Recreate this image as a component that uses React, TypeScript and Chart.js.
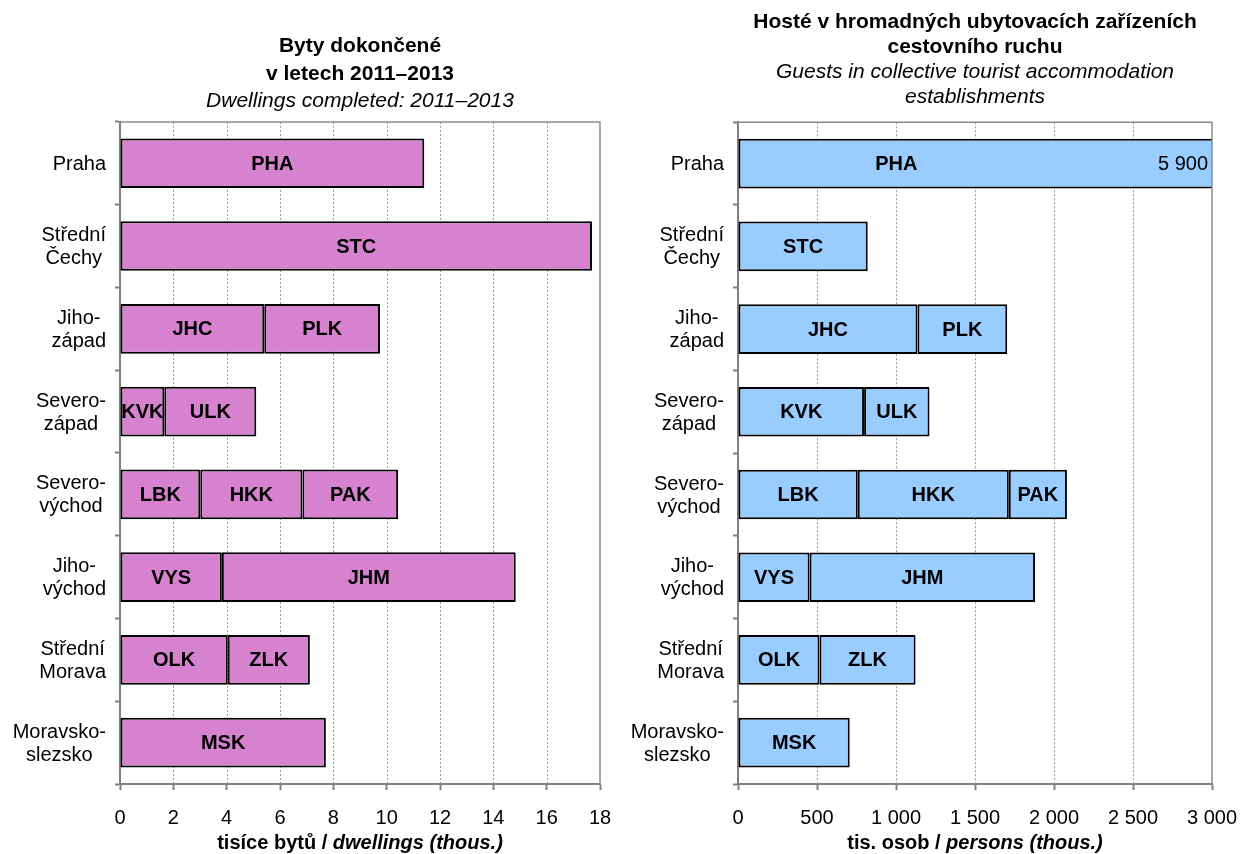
import React, { useEffect, useRef } from "react";
import { Chart, registerables } from "chart.js";

Chart.register(...registerables);

const FONT = '"Liberation Sans", Arial, Helvetica, sans-serif';

// ---------- data ----------
const regionLabels: string[][] = [
  ["Praha"],
  ["Střední", "Čechy"],
  ["Jiho-", "západ"],
  ["Severo-", "západ"],
  ["Severo-", "východ"],
  ["Jiho-", "východ"],
  ["Střední", "Morava"],
  ["Moravsko-", "slezsko"],
];

const codes1 = ["PHA", "STC", "JHC", "KVK", "LBK", "VYS", "OLK", "MSK"];
const codes2 = [null, null, "PLK", "ULK", "HKK", "JHM", "ZLK", null];
const codes3 = [null, null, null, null, "PAK", null, null, null];

// dwellings completed 2011–2013, thousands
const dwellings1 = [11.41, 17.7, 5.41, 1.66, 3.01, 3.82, 4.04, 7.72];
const dwellings2 = [null, null, 4.34, 3.45, 3.83, 11.02, 3.08, null];
const dwellings3 = [null, null, null, null, 3.59, null, null, null];

// guests in collective tourist accommodation, thousands
const guests1 = [5900, 821, 1136, 798, 758, 453, 516, 707];
const guests2 = [null, null, 568, 414, 956, 1427, 608, null];
const guests3 = [null, null, null, null, 368, null, null, null];

const dwellingsAxis = { min: 0, max: 18, step: 2 };
const guestsAxis = { min: 0, max: 3000, step: 500 };

const dwellingsTitle = ["Byty dokončené", "v letech 2011–2013"];
const dwellingsSubtitle = ["Dwellings completed: 2011–2013"];
const guestsTitle = ["Hosté v hromadných ubytovacích zařízeních", "cestovního ruchu"];
const guestsSubtitle = ["Guests in collective tourist accommodation", "establishments"];

const dwellingsAxisTitle = [
  { text: "tisíce bytů / ", italic: false },
  { text: "dwellings (thous.)", italic: true },
];
const guestsAxisTitle = [
  { text: "tis. osob / ", italic: false },
  { text: "persons (thous.)", italic: true },
];

// ---------- helpers ----------
function formatNum(v: number): string {
  const r = Math.round(v);
  if (r >= 1000) {
    return Math.floor(r / 1000) + " " + String(r % 1000).padStart(3, "0");
  }
  return String(v);
}

const gridPlugin = {
  id: "dottedGrid",
  beforeDatasetsDraw(chart: any) {
    const { ctx, chartArea: a, scales } = chart;
    const x = scales.x;
    ctx.save();
    ctx.strokeStyle = "#9a9a9a";
    ctx.lineWidth = 1;
    ctx.setLineDash([2, 2]);
    x.ticks.forEach((t: any, i: number) => {
      if (i === 0 || i === x.ticks.length - 1) return;
      const px = Math.round(x.getPixelForValue(t.value)) + 0.5;
      ctx.beginPath();
      ctx.moveTo(px, a.top);
      ctx.lineTo(px, a.bottom);
      ctx.stroke();
    });
    ctx.restore();
  },
  afterDatasetsDraw(chart: any) {
    const { ctx, chartArea: a } = chart;
    ctx.save();
    ctx.strokeStyle = "#8c8c8c";
    ctx.lineWidth = 1.5;
    ctx.beginPath();
    ctx.moveTo(a.left, a.top);
    ctx.lineTo(a.right, a.top);
    ctx.lineTo(a.right, a.bottom);
    ctx.stroke();
    ctx.restore();
  },
};

const barLabelPlugin = {
  id: "barLabels",
  afterDatasetsDraw(chart: any) {
    const { ctx, chartArea: a } = chart;
    ctx.save();
    ctx.fillStyle = "#000";
    ctx.textBaseline = "middle";
    chart.data.datasets.forEach((ds: any, di: number) => {
      const meta = chart.getDatasetMeta(di);
      meta.data.forEach((el: any, i: number) => {
        const code = ds.codes[i];
        const v = ds.data[i];
        if (!code || v == null) return;
        const { x, base, y } = el.getProps(["x", "base", "y"], true);
        const lo = Math.min(x, base);
        const hi = Math.max(x, base);
        const l = Math.max(lo, a.left);
        const r = Math.min(hi, a.right);
        let cx = (l + r) / 2;
        if (hi > a.right + 1) {
          let total = 0;
          for (let k = 0; k <= di; k++) total += chart.data.datasets[k].data[i] || 0;
          cx = l + (r - l) / 3;
          ctx.font = `20px ${FONT}`;
          ctx.textAlign = "right";
          ctx.fillText(formatNum(total), a.right - 4, y + 1);
        }
        ctx.font = `bold 20px ${FONT}`;
        ctx.textAlign = "center";
        ctx.fillText(code, cx, y + 1);
      });
    });
    ctx.restore();
  },
};

const yLabelPlugin = {
  id: "yLabels",
  afterDraw(chart: any) {
    const { ctx, chartArea: a, scales } = chart;
    const y = scales.y;
    ctx.save();
    ctx.font = `20px ${FONT}`;
    ctx.fillStyle = "#000";
    ctx.textAlign = "center";
    ctx.textBaseline = "middle";
    chart.data.labels.forEach((lab: any, i: number) => {
      const lines: string[] = Array.isArray(lab) ? lab : [lab];
      const w = Math.max(...lines.map((s) => ctx.measureText(s).width));
      const cx = a.left - 14 - w / 2;
      const cy = y.getPixelForValue(i);
      const lh = 23;
      lines.forEach((s, k) => {
        ctx.fillText(s, cx, cy + (k - (lines.length - 1) / 2) * lh + 1);
      });
    });
    ctx.restore();
  },
};

const axisTitlePlugin = {
  id: "axisTitle",
  afterDraw(chart: any, _args: any, opts: any) {
    const parts = opts.parts || [];
    const { ctx, chartArea: a } = chart;
    ctx.save();
    ctx.fillStyle = "#000";
    ctx.textBaseline = "middle";
    ctx.textAlign = "left";
    const fonts = parts.map((p: any) => `${p.italic ? "italic " : ""}bold 20px ${FONT}`);
    let total = 0;
    parts.forEach((p: any, i: number) => {
      ctx.font = fonts[i];
      total += ctx.measureText(p.text).width;
    });
    let x = (a.left + a.right) / 2 - total / 2;
    const yPos = opts.y;
    parts.forEach((p: any, i: number) => {
      ctx.font = fonts[i];
      ctx.fillText(p.text, x, yPos);
      x += ctx.measureText(p.text).width;
    });
    ctx.restore();
  },
};

function makeConfig(o: any) {
  const datasets = [
    { data: o.s1, codes: codes1 },
    { data: o.s2, codes: codes2 },
    { data: o.s3, codes: codes3 },
  ].map((d) => ({
    ...d,
    backgroundColor: o.color,
    borderColor: "#000",
    borderWidth: 2,
    borderSkipped: false,
    barPercentage: 0.6,
    categoryPercentage: 1,
  }));
  return {
    type: "bar",
    data: { labels: regionLabels, datasets },
    options: {
      indexAxis: "y",
      responsive: false,
      animation: false,
      devicePixelRatio: 1,
      layout: { padding: { left: 0, right: o.padRight, top: 0, bottom: 0 } },
      scales: {
        x: {
          stacked: true,
          min: o.axis.min,
          max: o.axis.max,
          afterFit(s: any) {
            s.height = 70;
            s.paddingRight = 0;
            s.paddingLeft = 0;
          },
          ticks: {
            stepSize: o.axis.step,
            color: "#000",
            font: { family: FONT, size: 20, lineHeight: 2.8 },
            padding: 0,
            maxRotation: 0,
            autoSkip: false,
            callback: (v: any) => formatNum(Number(v)),
          },
          grid: {
            drawOnChartArea: false,
            drawTicks: true,
            tickLength: 6,
            color: "#808080",
            tickColor: "#808080",
            tickWidth: 2,
          },
          border: { color: "#808080", width: 2 },
        },
        y: {
          stacked: true,
          afterFit(s: any) {
            s.width = o.yWidth;
          },
          ticks: { display: false },
          grid: {
            drawOnChartArea: false,
            drawTicks: true,
            tickLength: 5,
            offset: true,
            color: "#808080",
            tickColor: "#808080",
            tickWidth: 2,
          },
          border: { color: "#808080", width: 2 },
        },
      },
      plugins: {
        legend: { display: false },
        tooltip: { enabled: false },
        title: {
          display: true,
          fullSize: false,
          text: o.title,
          color: "#000",
          font: { family: FONT, size: 21, weight: "bold", lineHeight: o.titleLH },
          padding: { top: o.titlePadTop, bottom: 0 },
        },
        subtitle: {
          display: true,
          fullSize: false,
          text: o.subtitle,
          color: "#000",
          font: { family: FONT, size: 21, style: "italic", lineHeight: o.titleLH },
          padding: { top: o.subPadTop, bottom: o.subPadBottom },
        },
        axisTitle: { parts: o.axisTitle, y: 843 },
      },
    },
    plugins: [gridPlugin, barLabelPlugin, yLabelPlugin, axisTitlePlugin],
  };
}

export default function App() {
  const leftRef = useRef<HTMLCanvasElement | null>(null);
  const rightRef = useRef<HTMLCanvasElement | null>(null);

  useEffect(() => {
    const left = new Chart(
      leftRef.current as HTMLCanvasElement,
      makeConfig({
        s1: dwellings1,
        s2: dwellings2,
        s3: dwellings3,
        color: "#D682CF",
        axis: dwellingsAxis,
        padRight: 20,
        yWidth: 120,
        title: dwellingsTitle,
        subtitle: dwellingsSubtitle,
        titleLH: 1.3,
        titlePadTop: 33,
        subPadTop: 0,
        subPadBottom: 7,
        axisTitle: dwellingsAxisTitle,
      }) as any
    );
    const right = new Chart(
      rightRef.current as HTMLCanvasElement,
      makeConfig({
        s1: guests1,
        s2: guests2,
        s3: guests3,
        color: "#99CCFF",
        axis: guestsAxis,
        padRight: 29,
        yWidth: 118,
        title: guestsTitle,
        subtitle: guestsSubtitle,
        titleLH: 1.17,
        titlePadTop: 10,
        subPadTop: 1,
        subPadBottom: 13,
        axisTitle: guestsAxisTitle,
      }) as any
    );
    return () => {
      left.destroy();
      right.destroy();
    };
  }, []);

  return (
    <div style={{ position: "absolute", left: 0, top: 0, width: 1241, height: 854, background: "#fff" }}>
      <canvas ref={leftRef} width={620} height={854} style={{ position: "absolute", left: 0, top: 0, display: "block" }} />
      <canvas ref={rightRef} width={621} height={854} style={{ position: "absolute", left: 620, top: 0, display: "block" }} />
    </div>
  );
}
